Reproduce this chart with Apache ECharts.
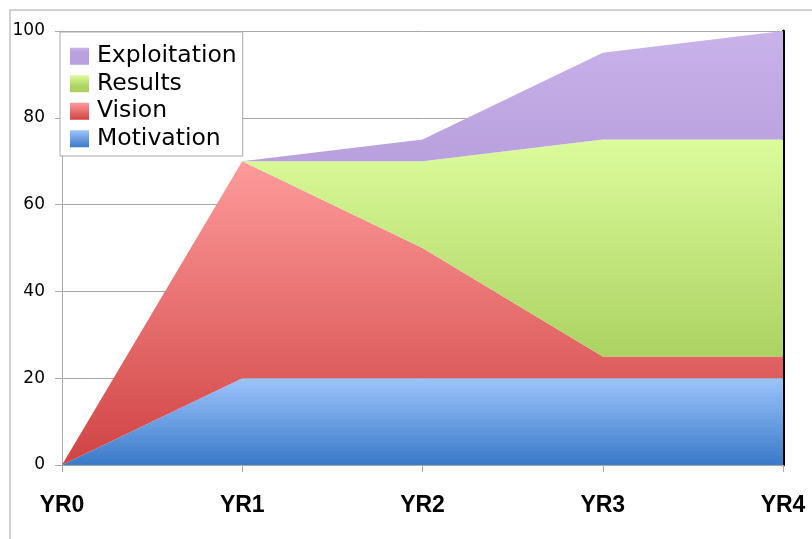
<!DOCTYPE html>
<html>
<head>
<meta charset="utf-8">
<script src="https://cdn.jsdelivr.net/npm/echarts@6/dist/echarts.min.js"></script>
<style>html,body{margin:0;padding:0;background:#fff;}#c{width:812px;height:539px;}</style>
</head>
<body>
<div id="c"></div>
<script>
const categories = ['YR0', 'YR1', 'YR2', 'YR3', 'YR4'];
const motivation = [0, 20, 20, 20, 20];
const vision = [0, 50, 30, 5, 5];
const results = [0, 0, 20, 50, 50];
const exploitation = [0, 0, 5, 20, 25];
const legendOrder = ['Exploitation', 'Results', 'Vision', 'Motivation'];

function grad(stops) {
  return new echarts.graphic.LinearGradient(0, 0, 0, 1, stops.map(s => ({offset: s[0], color: s[1]})));
}
const colMot = grad([[0, '#9cc4fc'], [1, '#3a7ac8']]);
const colVis = grad([[0, '#fe9b9b'], [1, '#d04343']]);
const colRes = grad([[0, '#dcfc9c'], [0.667, '#acd262'], [1, '#acd262']]);
const colExp = grad([[0, '#c9b3ea'], [0.3, '#b9a0de'], [1, '#b9a0de']]);

function mk(name, data, color) {
  return {
    name: name, type: 'line', stack: 'total', data: data,
    symbol: 'none', smooth: false,
    lineStyle: {width: 0, opacity: 0},
    itemStyle: {color: color},
    areaStyle: {color: color, opacity: 1},
    emphasis: {disabled: true},
    z: 2
  };
}

const chart = echarts.init(document.getElementById('c'), null, {renderer: 'canvas'});
chart.setOption({
  animation: false,
  backgroundColor: '#fff',
  graphic: [{
    type: 'rect', shape: {x: 10, y: 10, width: 900, height: 700},
    style: {fill: null, stroke: '#c4c4c4', lineWidth: 1.5}, z: 0, silent: true
  }],
  grid: {left: 62, right: 29, top: 31, bottom: 74, containLabel: false},
  legend: {
    orient: 'vertical', left: 60, top: 32,
    data: legendOrder,
    icon: 'rect', itemWidth: 19, itemHeight: 17, itemGap: 3,
    padding: [12, 6, 5, 10],
    borderColor: '#a8a8a8', borderWidth: 1, backgroundColor: '#fff',
    textStyle: {fontFamily: 'DejaVu Sans', fontSize: 23.5, color: '#000', lineHeight: 24.5, padding: [0, 0, 0, 3]},
    z: 10
  },
  xAxis: {
    type: 'category', data: categories, boundaryGap: false,
    axisLine: {show: true, lineStyle: {color: '#a8a8a8', width: 1}},
    axisTick: {show: true, alignWithLabel: true, length: 7, lineStyle: {color: '#a8a8a8'}},
    axisLabel: {fontFamily: 'Liberation Sans', fontWeight: 'bold', fontSize: 23, color: '#000', margin: 29},
    splitLine: {show: false}
  },
  yAxis: [{
    type: 'value', min: 0, max: 100, interval: 20,
    axisLine: {show: true, lineStyle: {color: '#a8a8a8', width: 1}},
    axisTick: {show: true, length: 7, lineStyle: {color: '#a8a8a8'}},
    axisLabel: {fontFamily: 'DejaVu Sans', fontSize: 17, color: '#000', margin: 17},
    splitLine: {show: true, lineStyle: {color: '#a8a8a8', width: 1}}
  }, {
    type: 'value', min: 0, max: 100, position: 'right',
    axisLine: {show: true, lineStyle: {color: '#000', width: 3}},
    axisTick: {show: false}, axisLabel: {show: false}, splitLine: {show: false}
  }],
  series: [
    mk('Motivation', motivation, colMot),
    mk('Vision', vision, colVis),
    mk('Results', results, colRes),
    mk('Exploitation', exploitation, colExp)
  ]
});
</script>
</body>
</html>
